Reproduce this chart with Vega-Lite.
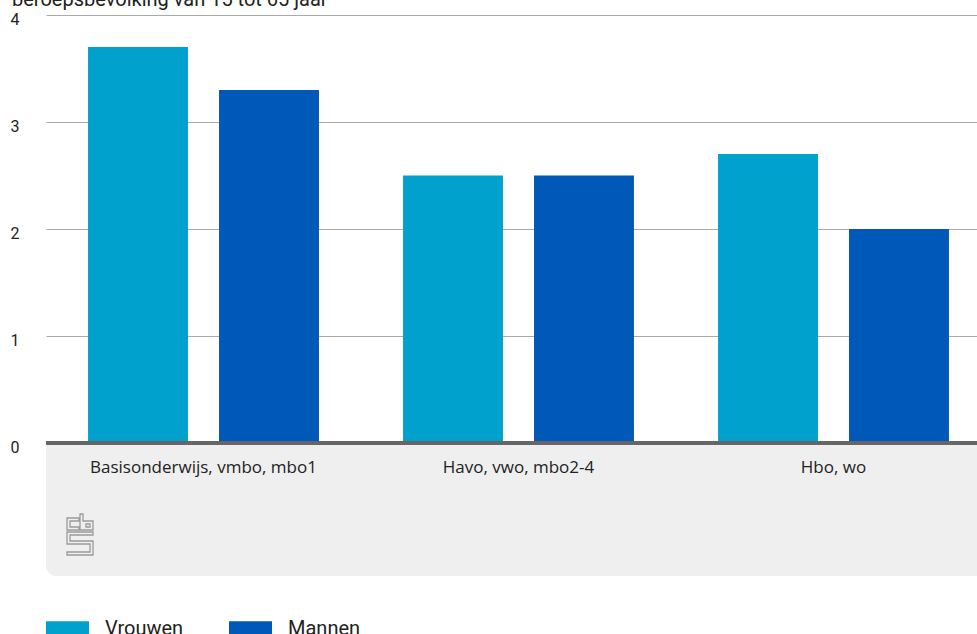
{
  "$schema": "https://vega.github.io/schema/vega-lite/v6.json",
  "width": 945,
  "height": 428,
  "autosize": {"type": "none"},
  "padding": {"left": 46, "top": 15, "right": 0, "bottom": 191},
  "background": "white",
  "title": {
    "text": "beroepsbevolking van 15 tot 65 jaar",
    "anchor": "start",
    "frame": "group",
    "dx": -34,
    "offset": 1,
    "font": "Roboto",
    "fontSize": 20,
    "fontWeight": "normal",
    "color": "#222222"
  },
  "config": {"view": {"stroke": null}, "font": "Roboto"},
  "data": {
    "values": [
      {"opleiding": "Basisonderwijs, vmbo, mbo1", "geslacht": "Vrouwen", "waarde": 3.7},
      {"opleiding": "Basisonderwijs, vmbo, mbo1", "geslacht": "Mannen", "waarde": 3.3},
      {"opleiding": "Havo, vwo, mbo2-4", "geslacht": "Vrouwen", "waarde": 2.5},
      {"opleiding": "Havo, vwo, mbo2-4", "geslacht": "Mannen", "waarde": 2.5},
      {"opleiding": "Hbo, wo", "geslacht": "Vrouwen", "waarde": 2.7},
      {"opleiding": "Hbo, wo", "geslacht": "Mannen", "waarde": 2.0}
    ]
  },
  "layer": [
    {
      "data": {"values": [{"box": "footer"}]},
      "mark": {"type": "rect", "color": "#efefef", "clip": false, "cornerRadiusBottomLeft": 10},
      "encoding": {
        "y": {"datum": 0, "type": "quantitative"},
        "y2": {"datum": -1.243}
      }
    },
    {
      "mark": {"type": "bar"},
      "encoding": {
        "x": {
          "field": "opleiding",
          "type": "nominal",
          "sort": null,
          "scale": {"type": "band", "paddingInner": 0, "paddingOuter": 0},
          "axis": {
            "title": null,
            "labelAngle": 0,
            "domain": false,
            "ticks": false,
            "tickSize": 0,
            "labelPadding": 16,
            "labelFontSize": 17,
            "labelLimit": 0,
            "labelColor": "#222222",
            "labelFont": "Open Sans",
            "zindex": 2
          }
        },
        "xOffset": {
          "field": "geslacht",
          "type": "nominal",
          "sort": ["Vrouwen", "Mannen"],
          "scale": {"type": "band", "paddingInner": 0.237, "paddingOuter": 0.321}
        },
        "y": {
          "field": "waarde",
          "type": "quantitative",
          "scale": {"domain": [0, 4], "nice": false},
          "axis": {
            "title": null,
            "values": [0, 1, 2, 3, 4],
            "format": "d",
            "grid": true,
            "gridColor": "#aaaaaa",
            "gridWidth": 1,
            "domain": false,
            "ticks": false,
            "tickSize": 0,
            "labelAlign": "left",
            "labelPadding": 36,
            "labelOffset": 4,
            "labelFontSize": 16,
            "labelColor": "#222222",
            "labelFont": "Roboto"
          }
        },
        "color": {
          "field": "geslacht",
          "type": "nominal",
          "scale": {"domain": ["Vrouwen", "Mannen"], "range": ["#00a1cd", "#0058b8"]},
          "legend": {
            "title": null,
            "orient": "none",
            "legendX": 0,
            "legendY": 592,
            "direction": "horizontal",
            "columns": 2,
            "columnPadding": 45,
            "symbolType": "M-1,-0.35H1V0.35H-1Z",
            "symbolSize": 1849,
            "symbolStrokeWidth": 0,
            "symbolOpacity": 1,
            "labelFontSize": 20,
            "labelFont": "Roboto",
            "labelColor": "#222222",
            "labelOffset": 16
          }
        }
      }
    },
    {
      "transform": [
        {"filter": "datum.geslacht === 'Vrouwen' && datum.opleiding === 'Basisonderwijs, vmbo, mbo1'"}
      ],
      "mark": {
        "type": "point",
        "filled": false,
        "clip": false,
        "stroke": "#9a9a9a",
        "strokeWidth": 1.3,
        "opacity": 1,
        "size": 4,
        "shape": "M-1,-17H-13V-5H-1V-8H-10V-14H-1Z M0,-21H3V-14H13V-5H0Z M6,-11H10V-8H6Z M-13,-3H13V0H-10V6H13V20H-13V17H10V9H-13Z"
      },
      "encoding": {
        "x": {"field": "opleiding", "type": "nominal", "sort": null, "bandPosition": 0.108},
        "y": {"datum": -0.86, "type": "quantitative"}
      }
    },
    {
      "mark": {"type": "rule", "color": "#666666", "strokeWidth": 3},
      "encoding": {"y": {"datum": 0, "type": "quantitative"}}
    }
  ]
}
